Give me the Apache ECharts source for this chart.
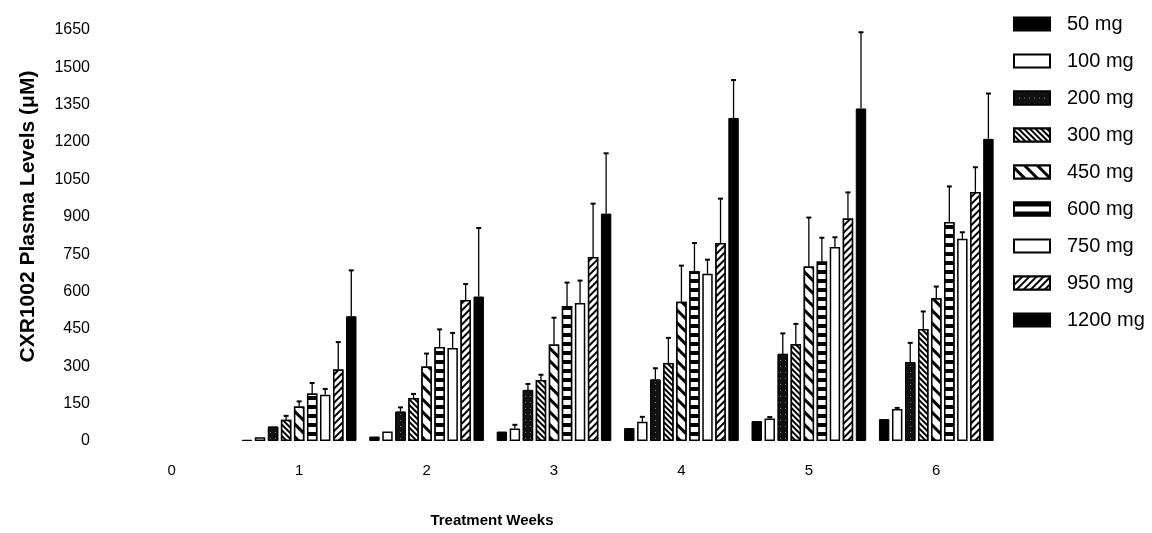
<!DOCTYPE html>
<html>
<head>
<meta charset="utf-8">
<script src="https://cdn.jsdelivr.net/npm/echarts@6/dist/echarts.min.js"></script>
<style>
html,body{margin:0;padding:0;background:#fff;}
#chart{width:1152px;height:533px;}
</style>
</head>
<body>
<div id="chart"></div>
<script>
// ---- data ----
const weeks = ['0', '1', '2', '3', '4', '5', '6'];
const doses = ['50 mg', '100 mg', '200 mg', '300 mg', '450 mg', '600 mg', '750 mg', '950 mg', '1200 mg'];
const yTicks = [0, 150, 300, 450, 600, 750, 900, 1050, 1200, 1350, 1500, 1650];

// mean plasma levels per week (week 0 has no bars)
const mean50   = [null, 5, 18, 38, 52, 80, 88];
const mean100  = [null, 15, 38, 50, 77, 90, 128];
const mean200  = [null, 58, 118, 205, 247, 350, 317];
const mean300  = [null, 85, 173, 245, 313, 388, 450];
const mean450  = [null, 139, 299, 387, 559, 701, 573];
const mean600  = [null, 191, 377, 542, 681, 721, 879];
const mean750  = [null, 186, 373, 554, 671, 779, 812];
const mean950  = [null, 287, 566, 739, 795, 893, 1000];
const mean1200 = [null, 501, 580, 913, 1297, 1335, 1213];

// top of the (upper) error bar per week
const err50   = [null, null, null, null, null, null, null];
const err100  = [null, null, null, 65, 97, 96, 133];
const err200  = [null, null, 135, 229, 292, 432, 394];
const err300  = [null, 101, 189, 266, 414, 470, 520];
const err450  = [null, 159, 351, 495, 704, 897, 620];
const err600  = [null, 233, 448, 636, 795, 816, 1022];
const err750  = [null, 209, 434, 644, 728, 818, 838];
const err950  = [null, 397, 630, 953, 973, 998, 1099];
const err1200 = [null, 685, 855, 1155, 1449, 1641, 1395];

const means = [mean50, mean100, mean200, mean300, mean450, mean600, mean750, mean950, mean1200];
const errs  = [err50, err100, err200, err300, err450, err600, err750, err950, err1200];

// ---- styles ----
const stripe = (rot, thick, gap) => ({
  symbol: 'rect', symbolSize: 1, color: '#000', backgroundColor: '#fff',
  dashArrayX: [1, 0], dashArrayY: [thick, gap], rotation: rot
});
const styles = [
  { color: '#000', borderColor: '#000', borderWidth: 1 },
  { color: '#fff', borderColor: '#000', borderWidth: 1.5 },
  { color: '#111', borderColor: '#000', borderWidth: 1,
    decal: { symbol: 'rect', symbolSize: 1, color: 'rgba(200,200,200,0.6)', backgroundColor: '#111',
             dashArrayX: [1, 4], dashArrayY: [1, 5], rotation: 0 } },
  { color: '#fff', borderColor: '#000', borderWidth: 1.5, decal: stripe(Math.PI / 4, 1.5, 2) },
  { color: '#fff', borderColor: '#000', borderWidth: 1.5, decal: stripe(Math.PI / 4, 2.5, 6) },
  { color: '#fff', borderColor: '#000', borderWidth: 1.5, decal: stripe(0, 4, 5) },
  { color: '#fff', borderColor: '#000', borderWidth: 1.5 },
  { color: '#fff', borderColor: '#000', borderWidth: 1.5, decal: stripe(-Math.PI / 4, 1.5, 2.5) },
  { color: '#000', borderColor: '#000', borderWidth: 1 }
];

const GAP = 0.25, CATGAP = 0.10;
const barSeries = doses.map((name, i) => ({
  name: name,
  type: 'bar',
  data: means[i].map(v => (v === null ? '-' : v)),
  barGap: (GAP * 100) + '%',
  barCategoryGap: (CATGAP * 100) + '%',
  itemStyle: styles[i],
  emphasis: { disabled: true },
  animation: false
}));

const errData = [];
errs.forEach((arr, d) => {
  arr.forEach((e, w) => {
    if (e !== null && means[d][w] !== null) errData.push([w, means[d][w], e, d]);
  });
});

const errSeries = {
  type: 'custom',
  name: 'err',
  data: errData,
  encode: { x: 0, y: [1, 2] },
  z: 5,
  animation: false,
  renderItem: function (params, api) {
    const w = api.value(0), v = api.value(1), e = api.value(2), d = api.value(3);
    const bw = api.size([1, 0])[0];
    const n = doses.length;
    const barW = bw * (1 - CATGAP) / (n + (n - 1) * GAP);
    const total = n * barW + (n - 1) * barW * GAP;
    const off = -total / 2 + d * barW * (1 + GAP) + barW / 2;
    const p0 = api.coord([w, v]);
    const p1 = api.coord([w, e]);
    const x = p0[0] + off;
    const st = { stroke: '#000', lineWidth: 1.3 };
    return {
      type: 'group',
      children: [
        { type: 'line', shape: { x1: x, y1: p0[1], x2: x, y2: p1[1] }, style: st },
        { type: 'line', shape: { x1: x - 2.5, y1: p1[1], x2: x + 2.5, y2: p1[1] }, style: { stroke: '#000', lineWidth: 2 } }
      ]
    };
  }
};

const FONT = 'Liberation Sans, Arial, sans-serif';
const chart = echarts.init(document.getElementById('chart'), null, { renderer: 'canvas' });
chart.setOption({
  backgroundColor: '#fff',
  animation: false,
  grid: { left: 108, right: 152, top: 30, bottom: 92, containLabel: false },
  legend: {
    data: doses,
    orient: 'vertical',
    left: 1008,
    top: 9,
    itemWidth: 36,
    itemHeight: 13,
    itemGap: 17,
    icon: 'rect',
    selectedMode: false,
    textStyle: { fontFamily: FONT, fontSize: 20, color: '#000', padding: [0, 0, 0, 12] }
  },
  xAxis: {
    type: 'category',
    data: weeks,
    name: 'Treatment Weeks',
    nameLocation: 'middle',
    nameGap: 72,
    nameTextStyle: { fontFamily: FONT, fontSize: 15, fontWeight: 'bold', color: '#000', padding: [0, 124, 0, 0] },
    axisLine: { show: false },
    axisTick: { show: false },
    axisLabel: { fontFamily: FONT, fontSize: 15, color: '#000', margin: 22 }
  },
  yAxis: {
    type: 'value',
    min: 0,
    max: 1650,
    interval: 150,
    name: 'CXR1002 Plasma Levels (\u03bcM)',
    nameLocation: 'middle',
    nameGap: 69,
    nameRotate: 90,
    nameTextStyle: { fontFamily: FONT, fontSize: 21, fontWeight: 'bold', color: '#000', padding: [0, 0, 0, 38] },
    axisLine: { show: false },
    axisTick: { show: false },
    splitLine: { show: false },
    axisLabel: { fontFamily: FONT, fontSize: 16, color: '#000', margin: 18,
                 formatter: v => (yTicks.indexOf(v) >= 0 ? String(v) : '') }
  },
  series: barSeries.concat([errSeries])
});
</script>
</body>
</html>
